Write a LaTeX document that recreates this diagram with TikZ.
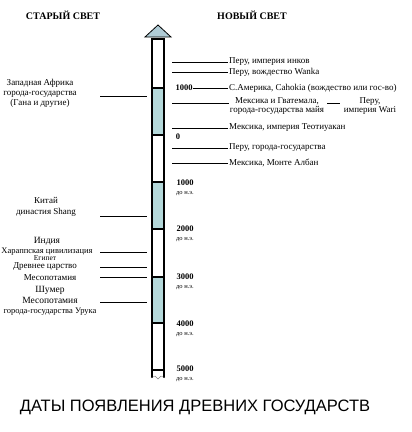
\documentclass[tikz,border=0pt]{standalone}
\usepackage{fontspec}
\setmainfont{Liberation Serif}
\newfontfamily\titlefont{Liberation Sans}
\usetikzlibrary{positioning}
\definecolor{shadeblue}{RGB}{180,216,218}
\definecolor{arrowblue}{RGB}{176,204,214}

\begin{document}
\begin{tikzpicture}[x=1pt, y=-1pt,
lbl/.style={inner sep=1pt, font=\fontsize{9}{10}\selectfont},
num/.style={inner sep=0pt, align=center, font=\fontsize{8.5}{10}\selectfont\bfseries},
head/.style={font=\fontsize{10}{12}\selectfont\bfseries}]
\useasboundingbox (0,0) rectangle (412,432);
\node[head] (old) at (63,15) {СТАРЫЙ СВЕТ};
\node[head] (new) at (252,15) {НОВЫЙ СВЕТ};
\foreach \a/\b in {88/135, 182/229, 277/323}{
\fill[shadeblue] (152,\a) rectangle (164,\b);}
\draw[line width=2pt] (152,38) -- (152,378) (164,38) -- (164,378);
\foreach \y in {39, 88, 135, 182, 229, 277, 323, 370}{
\draw[line width=2.5pt] (151,\y) -- (165,\y);}
\draw[fill=arrowblue, line width=0.8pt] (145,37) -- (158,25) -- (171,37) -- cycle;
\draw[gray] (151,378) -- (155,376) -- (158,379) -- (161,376) -- (165,378);
\node[num] (ad1) at (184,88) {1000};
\node[num] (ad0) at (178,137) {0};
\foreach \i/\y in {1/188, 2/234, 3/282, 4/329, 5/374}{
\node[num] (bc\i) at (185,\y) {\i000\\[-1pt]{\fontsize{6.5}{7}\selectfont\mdseries до н.э.}};}
\foreach \i/\y/\t in {1/62/{Перу, империя инков}, 2/72/{Перу, вождество Wanka}, 5/128/{Мексика, империя Теотиуакан}, 6/148/{Перу, города-государства}, 7/163/{Мексика, Монте Албан}}{
\coordinate (rc\i) at (172,\y);
\node[lbl, anchor=west] (r\i) at (228,\y) {\t};
\draw (rc\i) -- (r\i);}
\node[lbl, anchor=west] (r3) at (228,88) {С.Америка, Cahokia (вождество или гос-во)};
\draw (ad1) -- (r3);
\coordinate (rc4) at (172,103);
\node[lbl, align=center, font=\fontsize{9}{8.5}\selectfont] (r4) at (277,106) {Мексика и Гватемала,\\города-государства майя};
\node[lbl, align=center, font=\fontsize{9}{8.5}\selectfont] (r4b) at (370,106) {Перу,\\империя Wari};
\draw (rc4) -- (rc4 -| r4.west);
\draw[shorten <=2pt, shorten >=3pt] (r4.east |- rc4) -- (r4b.west |- rc4);
\node[lbl, align=center] (l1) at (40,93) {Западная Африка\\города-государства\\(Гана и другие)};
\node[lbl, align=center, font=\fontsize{9}{11}\selectfont] (l2) at (46,207) {Китай\\династия Shang};
\node[lbl, align=center, font=\fontsize{8.5}{10}\selectfont] (l3) at (47,246) {{\fontsize{9.5}{9}\selectfont Индия}\\Хараппская цивилизация};
\node[lbl, align=center, font=\fontsize{9}{7.5}\selectfont] (l4) at (45,263) {{\fontsize{7.5}{7}\selectfont Египет}\\Древнее царство};
\node[lbl, align=center, font=\fontsize{9}{12}\selectfont] (l5) at (50,285) {Месопотамия\\{\fontsize{9.5}{9}\selectfont Шумер}};
\node[lbl, align=center, font=\fontsize{8.5}{10}\selectfont] (l6) at (50,306) {{\fontsize{9.5}{9}\selectfont Месопотамия}\\города-государства Урука};
\foreach \i/\y in {1/96, 2/216, 3/252, 4/267, 5/277, 6/302}{
\coordinate (la\i) at (100,\y);
\coordinate (lb\i) at (147,\y);
\draw (la\i) -- (lb\i);}
\node[font=\titlefont\fontsize{16.5}{20}\selectfont] (title) at (195,407) {ДАТЫ ПОЯВЛЕНИЯ ДРЕВНИХ ГОСУДАРСТВ};
\end{tikzpicture}
\end{document}
